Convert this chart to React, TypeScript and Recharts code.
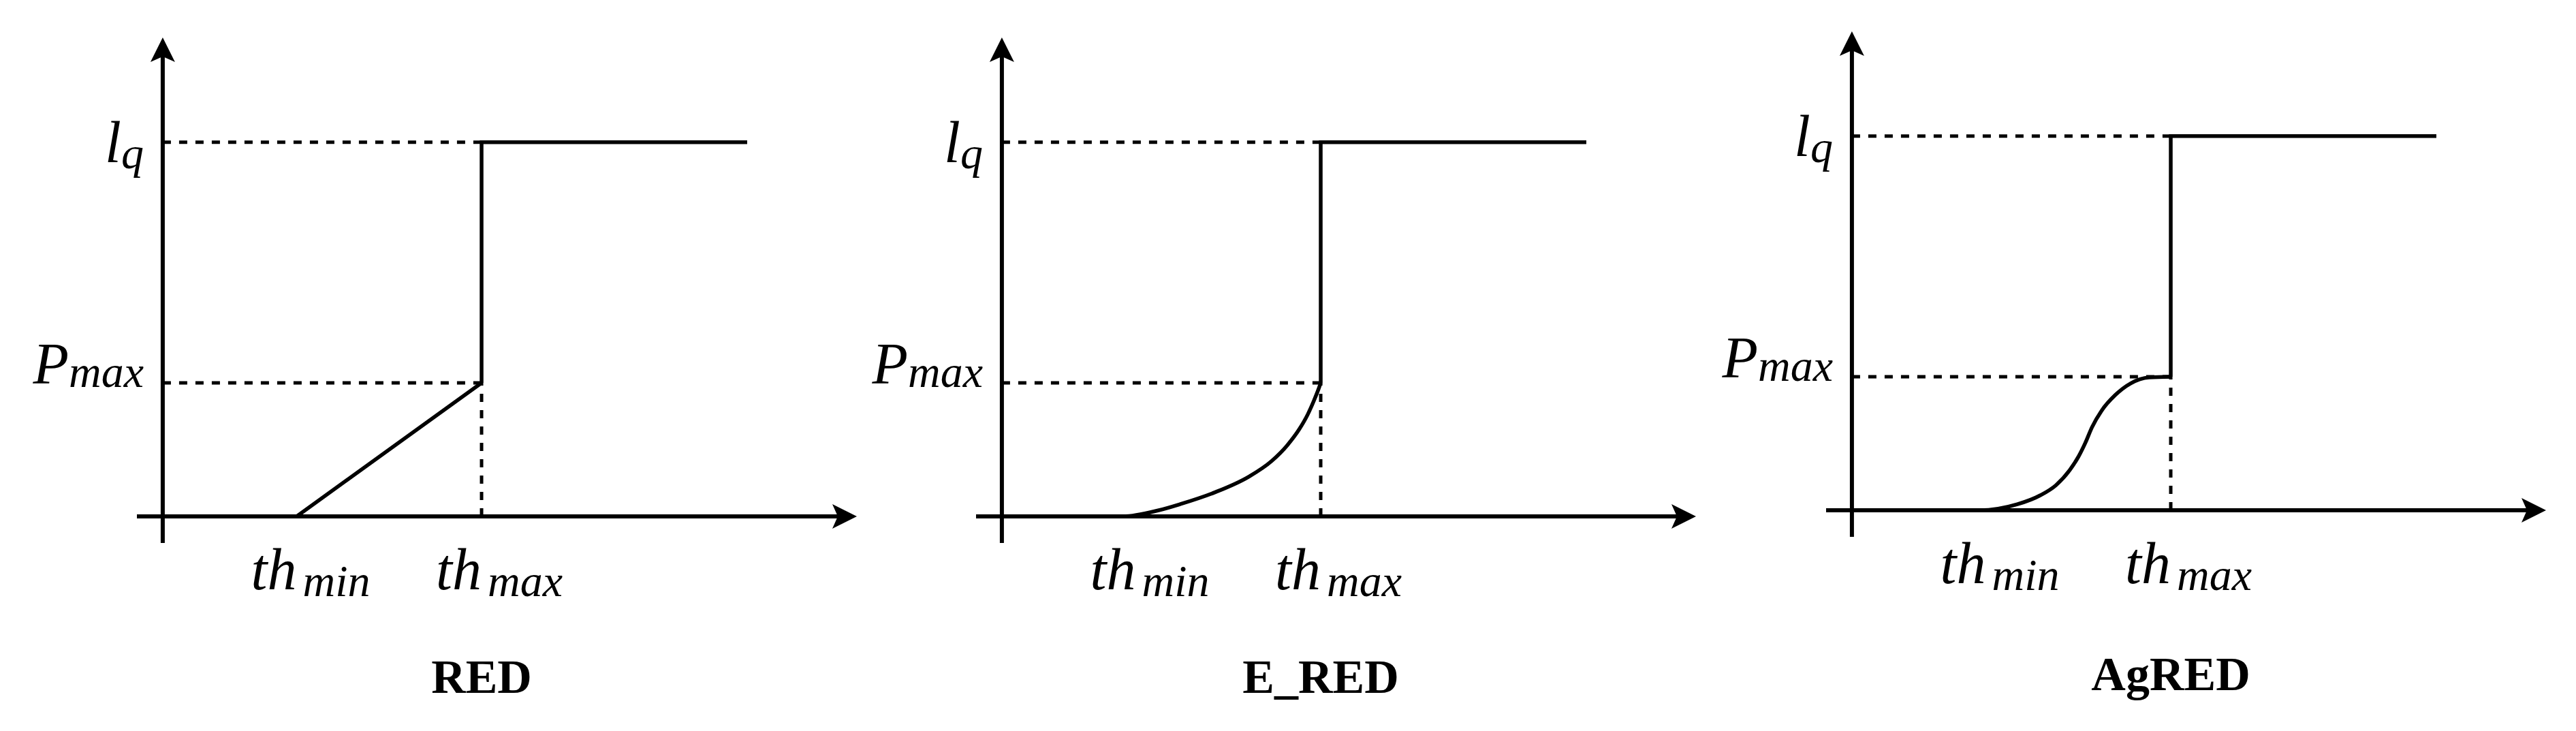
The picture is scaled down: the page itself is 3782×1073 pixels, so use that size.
import { LineChart, Line, XAxis, YAxis, ReferenceLine } from 'recharts';

// x positions of the thresholds (th_min, th_max), in units of th_max
const thTicks = [0.42, 1.0];
const thNames = ['min', 'max'];
// y levels (P_max, l_q), in units of l_q
const levelTicks = [0.357, 1.0];
const levelMain = ['P', 'l'];
const levelSub = ['max', 'q'];
// axis extents, arrow tips included
const axisX = [-0.081, 2.177];
const axisY = [-0.071, 1.28];

const titles = ['RED', 'E_RED', 'AgRED'];

// RED: linear ramp between th_min and th_max
const redX = [0, 0.42, 1.0];
const redY = [0, 0, 0.357];

// E_RED: convex rise towards th_max
const eredX = [0, 0.38, 0.49, 0.56, 0.667, 0.774, 0.846, 0.895, 0.932, 0.959, 0.979, 0.993, 1.0];
const eredY = [0, 0, 0.016, 0.033, 0.064, 0.106, 0.148, 0.19, 0.232, 0.272, 0.31, 0.34, 0.357];

// AgRED: S-shaped rise
const agredX = [0, 0.4, 0.519, 0.591, 0.64, 0.683, 0.711, 0.732, 0.753, 0.783, 0.826, 0.874, 0.932, 1.0];
const agredY = [0, 0, 0.016, 0.04, 0.067, 0.107, 0.144, 0.18, 0.222, 0.266, 0.308, 0.339, 0.355, 0.357];

// jump at th_max up to l_q, then flat
const stepX = [1.0, 1.0, 1.833];
const stepY = [0.357, 1.0, 1.0];

const FONT = '"Liberation Serif", "Times New Roman", serif';
const MAIN = 86;
const SUB = 66;

const toRows = (xs: number[], ys: number[]) => xs.map((x, i) => ({ x, y: ys[i] }));

function ArrowAxis(props: any) {
  const { x1, y1, x2, y2 } = props;
  const dx = x2 - x1;
  const dy = y2 - y1;
  const len = Math.hypot(dx, dy) || 1;
  const ux = dx / len;
  const uy = dy / len;
  const px = -uy;
  const py = ux;
  const L = 36;
  const W = 18;
  const N = 28;
  const bx = x2 - ux * L;
  const by = y2 - uy * L;
  const nx = x2 - ux * N;
  const ny = y2 - uy * N;
  return (
    <g>
      <line x1={x1} y1={y1} x2={nx} y2={ny} stroke="#000" strokeWidth={6} />
      <polygon
        points={`${x2},${y2} ${bx + px * W},${by + py * W} ${nx},${ny} ${bx - px * W},${by - py * W}`}
        fill="#000"
      />
    </g>
  );
}

type PanelProps = {
  rampX: number[];
  rampY: number[];
  curve: 'linear' | 'monotone';
  title: string;
  left: number;
  top: number;
  captionDy: number;
};

function Panel({ rampX, rampY, curve, title, left, top, captionDy }: PanelProps) {
  const renderTh = (props: any) => {
    const { x, y, payload } = props;
    const i = thTicks.indexOf(payload.value);
    return (
      <g>
        <text x={x} y={y + 68} textAnchor="end" fontFamily={FONT} fontStyle="italic" fontSize={MAIN} fill="#000">
          th
        </text>
        <text x={x + 9} y={y + 78} textAnchor="start" fontFamily={FONT} fontStyle="italic" fontSize={SUB} fill="#000">
          {thNames[i]}
        </text>
        {i === 1 && (
          <text x={x} y={y + captionDy} textAnchor="middle" fontFamily={FONT} fontWeight="bold" fontSize={70} fill="#000">
            {title}
          </text>
        )}
      </g>
    );
  };

  const renderLevel = (props: any) => {
    const { x, y, payload } = props;
    const i = levelTicks.indexOf(payload.value);
    const baseDy = i === 0 ? 1 : 29;
    const subDy = i === 0 ? 5 : 9;
    return (
      <text x={x + 10} y={y + baseDy} textAnchor="end" fontFamily={FONT} fontStyle="italic" fontSize={MAIN} fill="#000">
        <tspan>{levelMain[i]}</tspan>
        <tspan fontSize={SUB} dy={subDy}>
          {levelSub[i]}
        </tspan>
      </text>
    );
  };

  const dash = { stroke: '#000', strokeWidth: 5, strokeDasharray: '12 12', ifOverflow: 'visible' as const };

  return (
    <div style={{ position: 'absolute', left, top }}>
      <LineChart width={1300} height={1073} margin={{ top: 55, right: 42, bottom: 176, left: 51 }}>
        <XAxis
          type="number"
          dataKey="x"
          domain={axisX}
          allowDataOverflow
          ticks={thTicks}
          interval={0}
          axisLine={false}
          tickLine={false}
          tickSize={0}
          tickMargin={0}
          height={100}
          tick={renderTh}
        />
        <YAxis
          type="number"
          dataKey="y"
          domain={axisY}
          allowDataOverflow
          ticks={levelTicks}
          interval={0}
          axisLine={false}
          tickLine={false}
          tickSize={0}
          tickMargin={0}
          width={150}
          tick={renderLevel}
        />
        <ReferenceLine segment={[{ x: 0, y: levelTicks[1] }, { x: thTicks[1], y: levelTicks[1] }]} {...dash} />
        <ReferenceLine segment={[{ x: 0, y: levelTicks[0] }, { x: thTicks[1], y: levelTicks[0] }]} {...dash} />
        <ReferenceLine segment={[{ x: thTicks[1], y: 0 }, { x: thTicks[1], y: levelTicks[0] }]} {...dash} />
        <ReferenceLine
          segment={[{ x: axisX[0], y: 0 }, { x: axisX[1], y: 0 }]}
          ifOverflow="visible"
          shape={ArrowAxis}
        />
        <ReferenceLine
          segment={[{ x: 0, y: axisY[0] }, { x: 0, y: axisY[1] }]}
          ifOverflow="visible"
          shape={ArrowAxis}
        />
        <Line
          data={toRows(rampX, rampY)}
          dataKey="y"
          type={curve}
          stroke="#000"
          strokeWidth={5.5}
          dot={false}
          activeDot={false}
          isAnimationActive={false}
        />
        <Line
          data={toRows(stepX, stepY)}
          dataKey="y"
          type="linear"
          stroke="#000"
          strokeWidth={5.5}
          dot={false}
          activeDot={false}
          isAnimationActive={false}
        />
      </LineChart>
    </div>
  );
}

export default function App() {
  return (
    <div
      style={{
        position: 'absolute',
        left: 0,
        top: 0,
        width: 3782,
        height: 1073,
        background: '#fff',
        overflow: 'hidden',
      }}
    >
      <Panel rampX={redX} rampY={redY} curve="linear" title={titles[0]} left={0} top={0} captionDy={220} />
      <Panel rampX={eredX} rampY={eredY} curve="monotone" title={titles[1]} left={1232} top={0} captionDy={220} />
      <Panel rampX={agredX} rampY={agredY} curve="monotone" title={titles[2]} left={2480} top={-9} captionDy={225} />
    </div>
  );
}
